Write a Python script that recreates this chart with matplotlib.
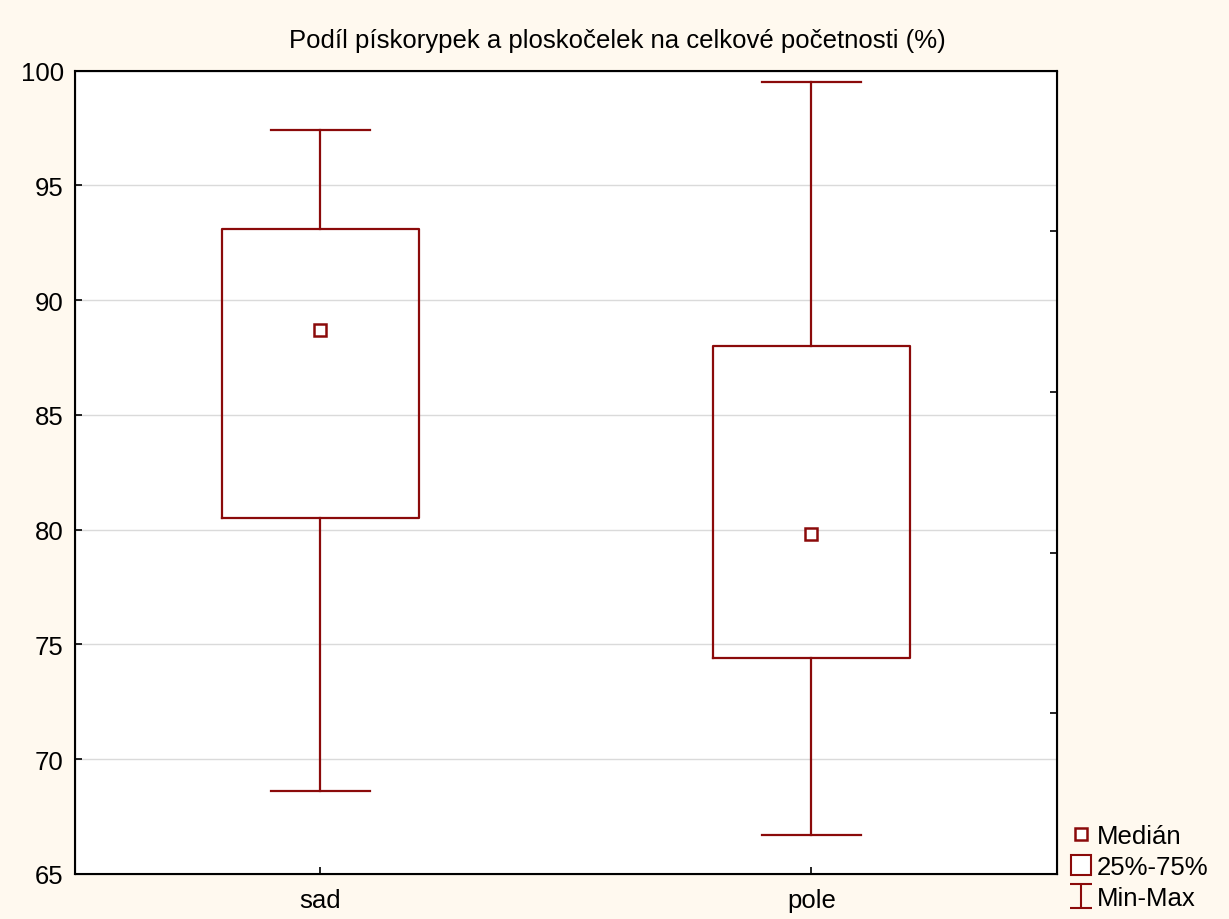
import matplotlib.pyplot as plt
from matplotlib.lines import Line2D
from matplotlib.path import Path

plt.rcParams['font.family'] = ['Liberation Sans', 'DejaVu Sans']

# summary stats per site
sites = ['sad', 'pole']
mins = [68.6, 66.7]
q1 = [80.5, 74.4]
medians = [88.7, 79.8]
q3 = [93.1, 88.0]
maxs = [97.4, 99.5]

yticks = [65, 70, 75, 80, 85, 90, 95, 100]
right_ticks = [65, 72, 79, 86, 93, 100]

red = '#8B0A0A'
bg = '#FFF9EF'
fs = 18.5

fig = plt.figure(figsize=(12.29, 9.2), dpi=100, facecolor=bg)
ax = fig.add_axes([0.061, 0.049, 0.799, 0.873])
ax.set_facecolor('white')

stats = []
for i, name in enumerate(sites):
    stats.append({'label': name, 'whislo': mins[i], 'q1': q1[i], 'med': medians[i],
                  'q3': q3[i], 'whishi': maxs[i], 'fliers': []})

ax.bxp(stats, positions=range(len(sites)), widths=0.4, showfliers=False,
       boxprops=dict(color=red, lw=1.6),
       whiskerprops=dict(color=red, lw=1.6),
       capprops=dict(color=red, lw=1.6),
       medianprops=dict(linestyle='none'),
       capwidths=0.2)
ax.plot(range(len(sites)), medians, 's', ms=8, mfc='white', mec=red, mew=1.8,
        linestyle='none', zorder=5)

ax.set_xlim(-0.5, 1.5)
ax.set_ylim(65, 100)
ax.set_yticks(yticks)
ax.set_xticks(range(len(sites)))
ax.set_xticklabels(sites)
ax.yaxis.grid(True, color='#DADADA', lw=1)
ax.set_axisbelow(True)
ax.tick_params(direction='in', length=5, width=1.2, labelsize=fs, pad=8)
ax.tick_params(axis='x', pad=10)

for s in ax.spines.values():
    s.set_linewidth(1.5)

# inward ticks on the right edge
ax2 = ax.twinx()
ax2.set_ylim(65, 100)
ax2.set_yticks(right_ticks)
ax2.set_yticklabels([])
ax2.tick_params(direction='in', length=5, width=1.2)

fig.suptitle('Podíl pískorypek a ploskočelek na celkové početnosti (%)',
             fontsize=fs, x=0.502, y=0.955, va='center')

# I-beam marker for the min-max legend entry
ibeam = Path([(-0.9, 1), (0.9, 1), (0, 1), (0, -1), (-0.9, -1), (0.9, -1)],
             [Path.MOVETO, Path.LINETO, Path.MOVETO, Path.LINETO, Path.MOVETO, Path.LINETO])

handles = [
    Line2D([], [], marker='s', ms=9, mfc='white', mec=red, mew=1.8, linestyle='none'),
    Line2D([], [], marker='s', ms=14, mfc='white', mec=red, mew=1.5, linestyle='none'),
    Line2D([], [], marker=ibeam, ms=17, color=red, mew=1.5, linestyle='none'),
]
fig.legend(handles, ['Medián', '25%-75%', 'Min-Max'], loc='lower left',
           bbox_to_anchor=(0.859, -0.010), frameon=False, fontsize=fs,
           handlelength=0.6, handletextpad=0.3, labelspacing=0.28, borderpad=0.2)

fig.savefig('out.png', dpi=100, facecolor=bg)
